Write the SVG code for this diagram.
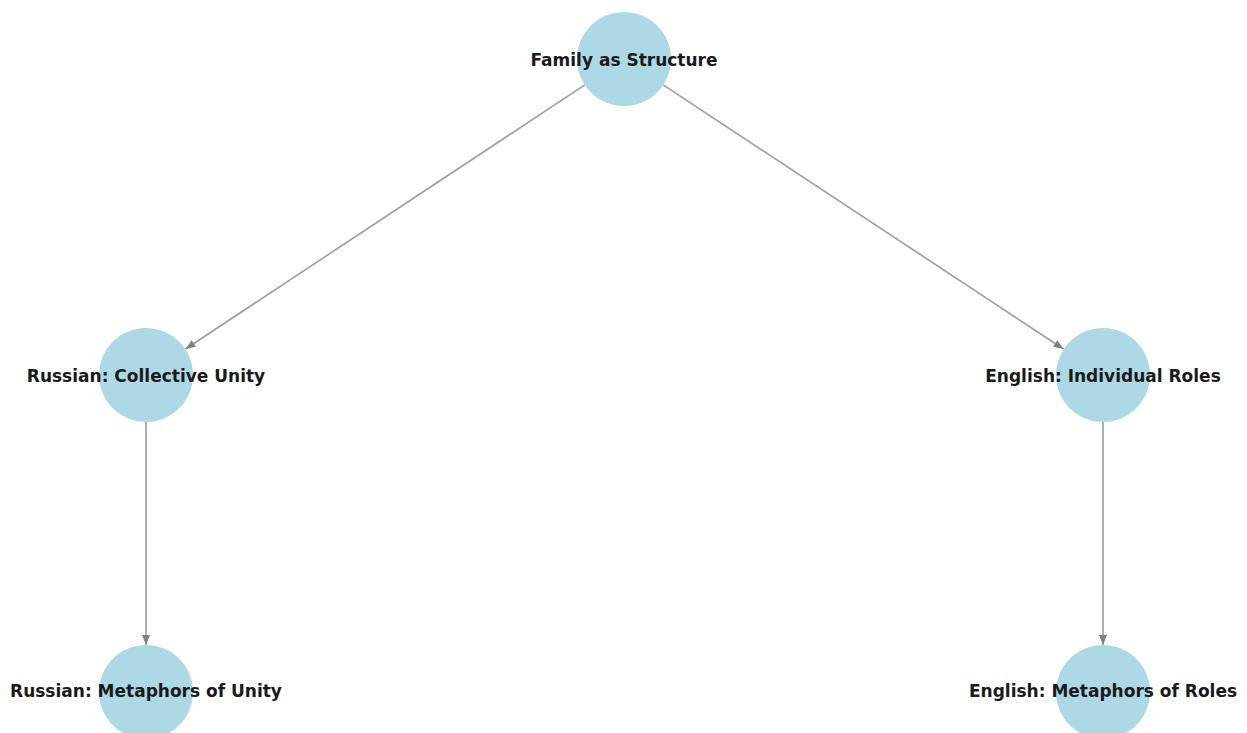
<svg xmlns="http://www.w3.org/2000/svg" width="1247" height="733" viewBox="0 0 1247 733">
<style>
.node{fill:#add8e6}
.lbl{font-family:"DejaVu Sans",sans-serif;font-weight:bold;font-size:17px;fill:#1a1a1a;text-anchor:middle;dominant-baseline:central}
.edge{stroke:#a0a0a0;stroke-width:1.7;fill:none}
</style>
<defs>
<marker id="arr" viewBox="0 0 10 8" refX="10" refY="4" markerWidth="11" markerHeight="8" markerUnits="userSpaceOnUse" orient="auto">
<path d="M0,0 L10,4 L0,8 Z" fill="#808080"/>
</marker>
</defs>
<rect width="1247" height="733" fill="#fff"/>
<g id="connectors">
<line class="edge" x1="584.8" y1="84.9" x2="185.5" y2="349" marker-end="url(#arr)"/>
<line class="edge" x1="663.2" y1="84.9" x2="1063.5" y2="349" marker-end="url(#arr)"/>
<line class="edge" x1="146" y1="422" x2="146" y2="645" marker-end="url(#arr)"/>
<line class="edge" x1="1103" y1="422" x2="1103" y2="645" marker-end="url(#arr)"/>
</g>
<g id="n_family"><circle class="node" cx="624" cy="59" r="47"/><text class="lbl" x="624" y="60">Family as Structure</text></g>
<g id="n_rus"><circle class="node" cx="146" cy="375" r="47"/><text class="lbl" x="146" y="376">Russian: Collective Unity</text></g>
<g id="n_eng"><circle class="node" cx="1103" cy="375" r="47"/><text class="lbl" x="1103" y="376">English: Individual Roles</text></g>
<g id="n_rus_met"><circle class="node" cx="146" cy="692" r="47"/><text class="lbl" x="146" y="691">Russian: Metaphors of Unity</text></g>
<g id="n_eng_met"><circle class="node" cx="1103" cy="692" r="47"/><text class="lbl" x="1103" y="691">English: Metaphors of Roles</text></g>
</svg>
